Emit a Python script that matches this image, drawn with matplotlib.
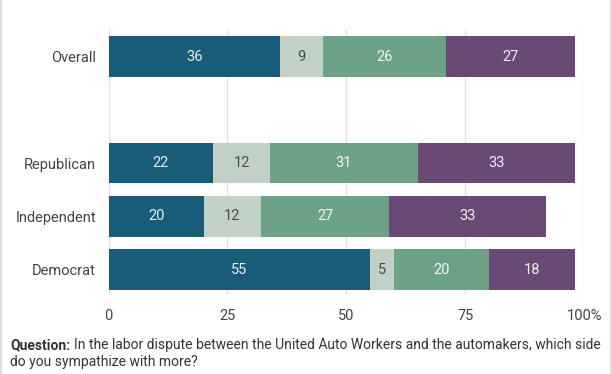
import matplotlib.pyplot as plt
import numpy as np

plt.rcParams['font.family'] = ['Roboto', 'DejaVu Sans']

groups = ["Overall", "Republican", "Independent", "Democrat"]
group_pos = [0, 2, 3, 4]

# segments: UAW, both/neither, unsure, automakers (values in %)
seg1 = [36, 22, 20, 55]
seg2 = [9, 12, 12, 5]
seg3 = [26, 31, 27, 20]
seg4 = [27, 33, 33, 18]
series = [seg1, seg2, seg3, seg4]

colors = ["#185c7a", "#c1d1c5", "#6ea287", "#694a76"]
text_colors = ["#e6eef0", "#4a4a4a", "#f2f5f2", "#f2eef4"]

xticks = [0, 25, 50, 75, 100]
xticklabels = ["0", "25", "50", "75", "100%"]

fig = plt.figure(figsize=(6.12, 3.74), dpi=100)
ax = fig.add_axes([0.1773, 0.211, 0.7775, 0.709])

left = np.zeros(len(groups))
for vals, c, tc in zip(series, colors, text_colors):
    vals = np.array(vals)
    ax.barh(group_pos, vals, left=left, height=0.765, color=c, zorder=2)
    for y, l, v in zip(group_pos, left, vals):
        ax.text(l + v / 2, y, str(v), ha="center", va="center",
                color=tc, fontsize=10.5, zorder=3)
    left += vals

ax.set_xlim(0, 100)
ax.set_ylim(4.48, -0.5)
ax.set_yticks(group_pos)
ax.set_yticklabels(groups, fontsize=10.5, color="#444444")
ax.set_xticks(xticks)
ax.set_xticklabels(xticklabels, fontsize=10.5, color="#444444")
ax.tick_params(length=0)
ax.tick_params(axis="y", pad=9)
ax.tick_params(axis="x", pad=10)
ax.grid(axis="x", color="#e2e2e2", linewidth=1, zorder=0)
for s in ax.spines.values():
    s.set_visible(False)

# question note, bold lead-in followed by regular text
qy = 1 - 345 / 374
lead = fig.text(10 / 612, qy, "Question:", fontsize=10, fontweight="bold",
                color="#333333", va="center")
renderer = fig.canvas.get_renderer()
bb = lead.get_window_extent(renderer=renderer)
fig.text(bb.x1 / fig.bbox.width + 4 / 612, qy,
         "In the labor dispute between the United Auto Workers and the automakers, which side",
         fontsize=10, color="#333333", va="center")
fig.text(10 / 612, 1 - 362 / 374, "do you sympathize with more?",
         fontsize=10, color="#333333", va="center")

# thin frame lines at the image edges
fig.add_artist(plt.Line2D([0.001, 0.001], [0, 1], color="#dddddd", lw=1.5,
                          transform=fig.transFigure))
fig.add_artist(plt.Line2D([0.999, 0.999], [0, 1], color="#dddddd", lw=1.5,
                          transform=fig.transFigure))

fig.savefig("out.png", dpi=100)
